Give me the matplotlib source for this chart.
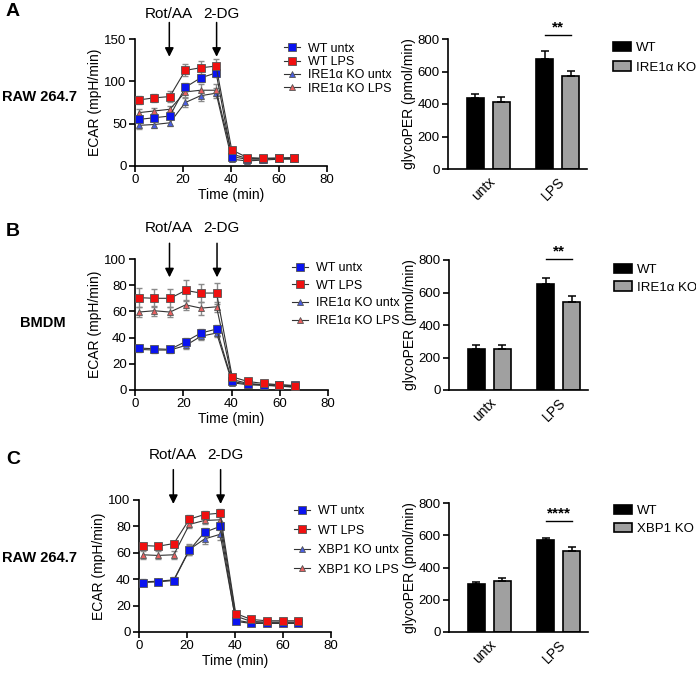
import matplotlib
matplotlib.use("Agg")
import matplotlib.pyplot as plt
import numpy as np

plt.rcParams['font.family'] = ['Liberation Sans', 'DejaVu Sans']

# time points (min) of the Seahorse measurements
TIME = [1.5, 8.0, 14.5, 21.0, 27.3, 33.8, 40.3, 46.8, 53.3, 59.8, 66.3]

# ---- panel A: RAW 264.7, IRE1a KO ----
A_WT_UNTX = [55, 57, 59, 93, 104, 110, 11, 8, 8, 9, 9]
A_WT_LPS = [78, 80.5, 82, 113, 116, 118, 19, 10, 9, 9.5, 10]
A_KO_UNTX = [48, 49, 51, 75, 83, 86, 8, 6, 7, 8, 8]
A_KO_LPS = [63, 65, 67, 87.5, 89.5, 89.5, 14, 9, 9, 9, 9]
A_ERR = [[4, 4, 4, 5, 5, 5, 2, 2, 2, 2, 2],
         [5, 5, 6, 7, 8, 8, 3, 2, 2, 2, 2],
         [4, 4, 4, 5, 6, 6, 2, 1, 1, 1, 1],
         [4, 4, 4, 6, 7, 7, 2, 2, 2, 2, 2]]

# ---- panel B: BMDM, IRE1a KO ----
B_WT_UNTX = [32, 31.5, 31, 37, 43.5, 46.5, 6.5, 4.5, 4, 4, 3.5]
B_WT_LPS = [70.5, 70, 70, 76, 74, 74, 10, 6.5, 5, 4, 3]
B_KO_UNTX = [31, 30.5, 30.5, 34, 41, 43.5, 5.5, 4, 3.5, 3, 2.5]
B_KO_LPS = [59.5, 60.5, 59.5, 65, 62.5, 63.5, 8, 5, 4, 3, 2]
B_ERR = [[2, 2, 2, 3, 3, 3, 1, 1, 1, 1, 1],
         [7, 7, 7, 8, 7, 8, 2, 1, 1, 1, 1],
         [2, 2, 2, 3, 3, 3, 1, 1, 1, 1, 1],
         [4, 4, 4, 4, 5, 4, 1, 1, 1, 1, 1]]

# ---- panel C: RAW 264.7, XBP1 KO ----
C_WT_UNTX = [37.5, 38, 39, 62, 75.5, 80, 8, 6.5, 6.5, 6.5, 6.5]
C_WT_LPS = [65.5, 65, 67, 85.5, 89, 90, 14, 9.5, 8.5, 8.5, 8.5]
C_KO_UNTX = [38, 38.5, 39.5, 62.5, 70.5, 74, 9, 7, 7, 7, 7]
C_KO_LPS = [58.5, 58, 58.5, 81.5, 84.5, 85, 12, 8, 7.5, 7.5, 7.5]
C_ERR = [[2, 2, 2, 4, 3, 3, 1, 1, 1, 1, 1],
         [2, 2, 2, 3, 3, 3, 1, 1, 1, 1, 1],
         [2, 2, 2, 4, 4, 4, 1, 1, 1, 1, 1],
         [3, 3, 3, 3, 3, 3, 1, 1, 1, 1, 1]]

# glycoPER bars: [untx, LPS]
CATS = ["untx", "LPS"]
A_BAR_WT, A_BAR_KO = [435, 680], [410, 570]
A_BAR_WT_ERR, A_BAR_KO_ERR = [25, 45], [33, 35]
B_BAR_WT, B_BAR_KO = [255, 650], [255, 542]
B_BAR_WT_ERR, B_BAR_KO_ERR = [22, 38], [22, 38]
C_BAR_WT, C_BAR_KO = [295, 568], [315, 500]
C_BAR_WT_ERR, C_BAR_KO_ERR = [12, 18], [22, 30]

BLUE = '#0a14f0'
RED = '#f01010'
BLUE_T = '#4a5ee0'
RED_T = '#e86060'

W, H = 696, 674
fig = plt.figure(figsize=(W / 100, H / 100), dpi=100)


def ax_px(l, t, r, b):
    return fig.add_axes([l / W, 1 - b / H, (r - l) / W, (b - t) / H])


def style(ax):
    for s in ['top', 'right']:
        ax.spines[s].set_visible(False)
    for s in ['left', 'bottom']:
        ax.spines[s].set_linewidth(1.2)
    ax.tick_params(labelsize=9.5, width=1.2, length=4, pad=2)


def line_panel(box, series, errs, ymax, yticks, ko, leg_xy, leg_space, arrow):
    ax = ax_px(*box)
    style(ax)
    specs = [('s', BLUE, 'WT untx', 5.5),
             ('s', RED, 'WT LPS', 5.5),
             ('^', BLUE_T, ko + ' untx', 5),
             ('^', RED_T, ko + ' LPS', 5)]
    handles = [None] * 4
    for i in [2, 3, 0, 1]:
        m, c, lab, ms = specs[i]
        ax.errorbar(TIME, series[i], yerr=errs[i], fmt='none', ecolor='#8a8a8a',
                    elinewidth=1, capsize=2.5, capthick=1, zorder=2)
        h, = ax.plot(TIME, series[i], '-', color='#333333', lw=0.8, marker=m,
                     mfc=c, mec='#555555', mew=0.6, ms=ms, label=lab, zorder=3)
        handles[i] = h
    ax.set_xlim(0, 80)
    ax.set_ylim(0, ymax)
    ax.set_xticks([0, 20, 40, 60, 80])
    ax.set_yticks(yticks)
    ax.set_xlabel('Time (min)', fontsize=10, labelpad=1)
    ax.set_ylabel('ECAR (mpH/min)', fontsize=10, labelpad=2)
    ax.legend(handles=handles, loc='upper left', bbox_to_anchor=leg_xy,
              frameon=False, fontsize=9, handlelength=1.3, handletextpad=0.6,
              labelspacing=leg_space, borderaxespad=0, borderpad=0)
    tip, top, txt = arrow
    for x in (14.3, 34):
        ax.annotate('', xy=(x, ymax * tip), xytext=(x, ymax * top),
                    arrowprops=dict(arrowstyle='-|>', color='black', lw=1.1,
                                    mutation_scale=13, shrinkA=0, shrinkB=0),
                    annotation_clip=False)
    ax.text(14, ymax * txt, 'Rot/AA', ha='center', va='center', fontsize=11)
    ax.text(36, ymax * txt, '2-DG', ha='center', va='center', fontsize=11)
    return ax


def bar_panel(box, wt, ko, wt_err, ko_err, ko_label, stars, sig_y, leg_y, leg_space):
    ax = ax_px(*box)
    style(ax)
    x = np.arange(len(CATS))
    bw, off = 0.245, 0.185
    ekw = dict(ecolor='black', elinewidth=1.1, capsize=3, capthick=1.1)
    b1 = ax.bar(x - off, wt, bw, color='black', edgecolor='black', lw=1.2,
                yerr=[[0] * 2, wt_err], error_kw=ekw, label='WT')
    b2 = ax.bar(x + off, ko, bw, color='#a0a0a0', edgecolor='black', lw=1.2,
                yerr=[[0] * 2, ko_err], error_kw=ekw, label=ko_label)
    ax.set_xlim(-0.58, 1.42)
    ax.set_ylim(0, 800)
    ax.set_yticks([0, 200, 400, 600, 800])
    ax.set_xticks(x)
    ax.set_xticklabels(CATS, rotation=45, ha='right', rotation_mode='anchor', fontsize=10)
    ax.tick_params(axis='x', length=0, pad=4)
    ax.set_ylabel('glycoPER (pmol/min)', fontsize=10, labelpad=1)
    ax.plot([1 - off, 1 + off], [sig_y, sig_y], color='black', lw=1, clip_on=False)
    ax.text(1, sig_y + 5, stars, ha='center', va='bottom', fontsize=11, fontweight='bold')
    ax.legend(handles=[b1, b2], loc='upper left', bbox_to_anchor=(1.19, leg_y), frameon=False,
              fontsize=9.5, handlelength=1.3, handletextpad=0.4,
              labelspacing=leg_space, borderaxespad=0, borderpad=0)
    return ax


line_panel((135, 39, 327, 166), [A_WT_UNTX, A_WT_LPS, A_KO_UNTX, A_KO_LPS], A_ERR,
           150, [0, 50, 100, 150], 'IRE1α KO', (0.776, 0.97), 0.1, (0.86, 1.13, 1.2))
line_panel((135, 259, 328, 390), [B_WT_UNTX, B_WT_LPS, B_KO_UNTX, B_KO_LPS], B_ERR,
           100, [0, 20, 40, 60, 80, 100], 'IRE1α KO', (0.813, 0.977), 0.45, (0.86, 1.12, 1.24))
line_panel((139, 500, 331, 632), [C_WT_UNTX, C_WT_LPS, C_KO_UNTX, C_KO_LPS], C_ERR,
           100, [0, 20, 40, 60, 80, 100], 'XBP1 KO', (0.807, 0.962), 0.6, (0.97, 1.23, 1.34))

bar_panel((448, 39, 587, 169), A_BAR_WT, A_BAR_KO, A_BAR_WT_ERR, A_BAR_KO_ERR,
          'IRE1α KO', '**', 825, 0.977, 0.55)
bar_panel((449, 260, 588, 390), B_BAR_WT, B_BAR_KO, B_BAR_WT_ERR, B_BAR_KO_ERR,
          'IRE1α KO', '**', 804, 0.97, 0.4)
bar_panel((449, 503, 588, 632), C_BAR_WT, C_BAR_KO, C_BAR_WT_ERR, C_BAR_KO_ERR,
          'XBP1 KO', '****', 688, 0.984, 0.4)

# panel letters and cell line labels
for ylab, txt in [(12, 'A'), (232, 'B'), (460, 'C')]:
    fig.text(6 / W, 1 - ylab / H, txt, fontsize=14, fontweight='bold', va='center', ha='left')
for ylab, xlab, txt in [(97, 2, 'RAW 264.7'), (323, 20, 'BMDM'), (558, 2, 'RAW 264.7')]:
    fig.text(xlab / W, 1 - ylab / H, txt, fontsize=10.5, fontweight='bold', va='center', ha='left')

fig.savefig('out.png', dpi=100)
